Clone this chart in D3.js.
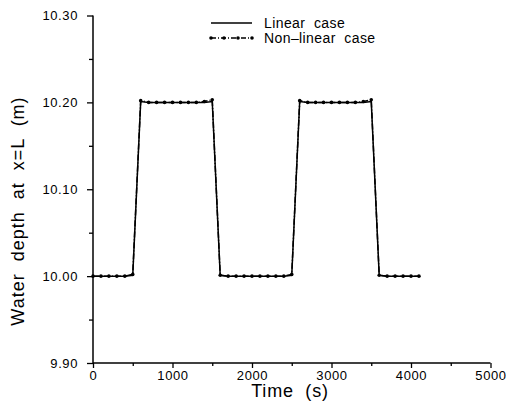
<!DOCTYPE html>
<html>
<head>
<meta charset="utf-8">
<script src="https://cdn.jsdelivr.net/npm/d3@7"></script>
<style>
  html, body { margin: 0; padding: 0; background: #fff; }
  svg { display: block; }
  text { font-family: "Liberation Sans", Arial, sans-serif; fill: #000; }
</style>
</head>
<body>
<svg id="chart" width="506" height="403"></svg>
<script>
// Time samples (s) and water depth at x=L (m)
const times = [0, 100, 200, 300, 400, 500, 600, 700, 800, 900, 1000, 1100, 1200, 1300, 1400, 1500,
  1600, 1700, 1800, 1900, 2000, 2100, 2200, 2300, 2400, 2500,
  2600, 2700, 2800, 2900, 3000, 3100, 3200, 3300, 3400, 3500,
  3600, 3700, 3800, 3900, 4000, 4100];
const linearDepth = [10.000, 10.000, 10.000, 10.000, 10.000, 10.001, 10.201, 10.200, 10.200, 10.200, 10.200, 10.200, 10.200, 10.200, 10.200, 10.201,
  10.001, 10.000, 10.000, 10.000, 10.000, 10.000, 10.000, 10.000, 10.000, 10.001,
  10.201, 10.200, 10.200, 10.200, 10.200, 10.200, 10.200, 10.200, 10.200, 10.201,
  10.001, 10.000, 10.000, 10.000, 10.000, 10.000];
const nonlinearDepth = [10.000, 10.000, 10.000, 10.000, 10.000, 10.002, 10.202, 10.200, 10.200, 10.200, 10.200, 10.200, 10.200, 10.200, 10.201, 10.203,
  10.001, 10.000, 10.000, 10.000, 10.000, 10.000, 10.000, 10.000, 10.000, 10.002,
  10.202, 10.200, 10.200, 10.200, 10.200, 10.200, 10.200, 10.200, 10.201, 10.203,
  10.001, 10.000, 10.000, 10.000, 10.000, 10.000];
const xTicks = [0, 1000, 2000, 3000, 4000, 5000];
const xMinorTicks = [500, 1500, 2500, 3500, 4500];
const yTicks = [9.90, 10.00, 10.10, 10.20, 10.30];
const yMinorTicks = [9.95, 10.05, 10.15, 10.25];
const seriesNames = ["Linear case", "Non\u2013linear case"];

const svg = d3.select("#chart");
const x = d3.scaleLinear().domain([0, 5000]).range([93, 490.5]);
const y = d3.scaleLinear().domain([9.90, 10.30]).range([363, 15.5]);

// axes
const xAxis = d3.axisBottom(x).tickValues(xTicks).tickFormat(d3.format("d")).tickSize(5).tickPadding(3);
const xMinor = d3.axisBottom(x).tickValues(xMinorTicks).tickFormat("").tickSize(3);
const yAxis = d3.axisLeft(y).tickValues(yTicks).tickFormat(d3.format(".2f")).tickSize(6).tickPadding(9);
const yMinor = d3.axisLeft(y).tickValues(yMinorTicks).tickFormat("").tickSize(4);

function style(g) {
  g.select(".domain").attr("stroke", "#000").attr("stroke-width", 1.5);
  g.selectAll(".tick line").attr("stroke", "#000").attr("stroke-width", 1.3);
  g.selectAll(".tick text").attr("font-size", 13).attr("letter-spacing", 0.6)
    .attr("font-family", "Liberation Sans, Arial, sans-serif");
}
const gx = svg.append("g").attr("transform", `translate(0,${y(9.90)})`).call(xAxis).call(style);
svg.append("g").attr("transform", `translate(0,${y(9.90)})`).call(xMinor).call(style).select(".domain").remove();
const gy = svg.append("g").attr("transform", `translate(${x(0)},0)`).call(yAxis).call(style);
svg.append("g").attr("transform", `translate(${x(0)},0)`).call(yMinor).call(style).select(".domain").remove();
gy.select(".domain").attr("d", `M0,${y(10.30)}V${y(9.90)}`);
gx.select(".domain").attr("d", `M${x(0)},0H${x(5000)}`);

// axis titles
svg.append("text")
  .attr("x", 290).attr("y", 397)
  .attr("text-anchor", "middle")
  .attr("font-size", 18)
  .attr("letter-spacing", 0.8)
  .style("white-space", "pre")
  .text("Time  (s)");
svg.append("text")
  .attr("transform", `translate(24,211) rotate(-90)`)
  .attr("text-anchor", "middle")
  .attr("font-size", 18)
  .attr("letter-spacing", 1)
  .style("white-space", "pre")
  .text("Water  depth  at  x=L  (m)");

// series
const line = d3.line().x(d => x(d[0])).y(d => y(d[1]));
const linData = times.map((t, i) => [t, linearDepth[i]]);
const nlData = times.map((t, i) => [t, nonlinearDepth[i]]);

svg.append("path").datum(linData)
  .attr("d", line).attr("fill", "none").attr("stroke", "#000").attr("stroke-width", 1.5);
svg.append("path").datum(nlData)
  .attr("d", line).attr("fill", "none").attr("stroke", "#000").attr("stroke-width", 1.5)
  .attr("stroke-dasharray", "6,2,1,2");
svg.append("g").selectAll("circle").data(nlData).join("circle")
  .attr("cx", d => x(d[0])).attr("cy", d => y(d[1])).attr("r", 1.8).attr("fill", "#000");

// legend
const lg = svg.append("g");
lg.append("line").attr("x1", 211).attr("x2", 252).attr("y1", 23).attr("y2", 23)
  .attr("stroke", "#000").attr("stroke-width", 1.5);
lg.append("line").attr("x1", 211).attr("x2", 252).attr("y1", 38).attr("y2", 38)
  .attr("stroke", "#000").attr("stroke-width", 1.5).attr("stroke-dasharray", "5,2,1,2");
lg.selectAll("circle").data([211, 224, 238, 252]).join("circle")
  .attr("cx", d => d).attr("cy", 38).attr("r", 1.8).attr("fill", "#000");
lg.selectAll("text").data(seriesNames).join("text")
  .attr("x", 264).attr("y", (d, i) => 28 + i * 15)
  .attr("font-size", 14)
  .attr("letter-spacing", 0.4)
  .style("white-space", "pre")
  .text(d => d.replace(" ", "  "));
</script>
</body>
</html>
